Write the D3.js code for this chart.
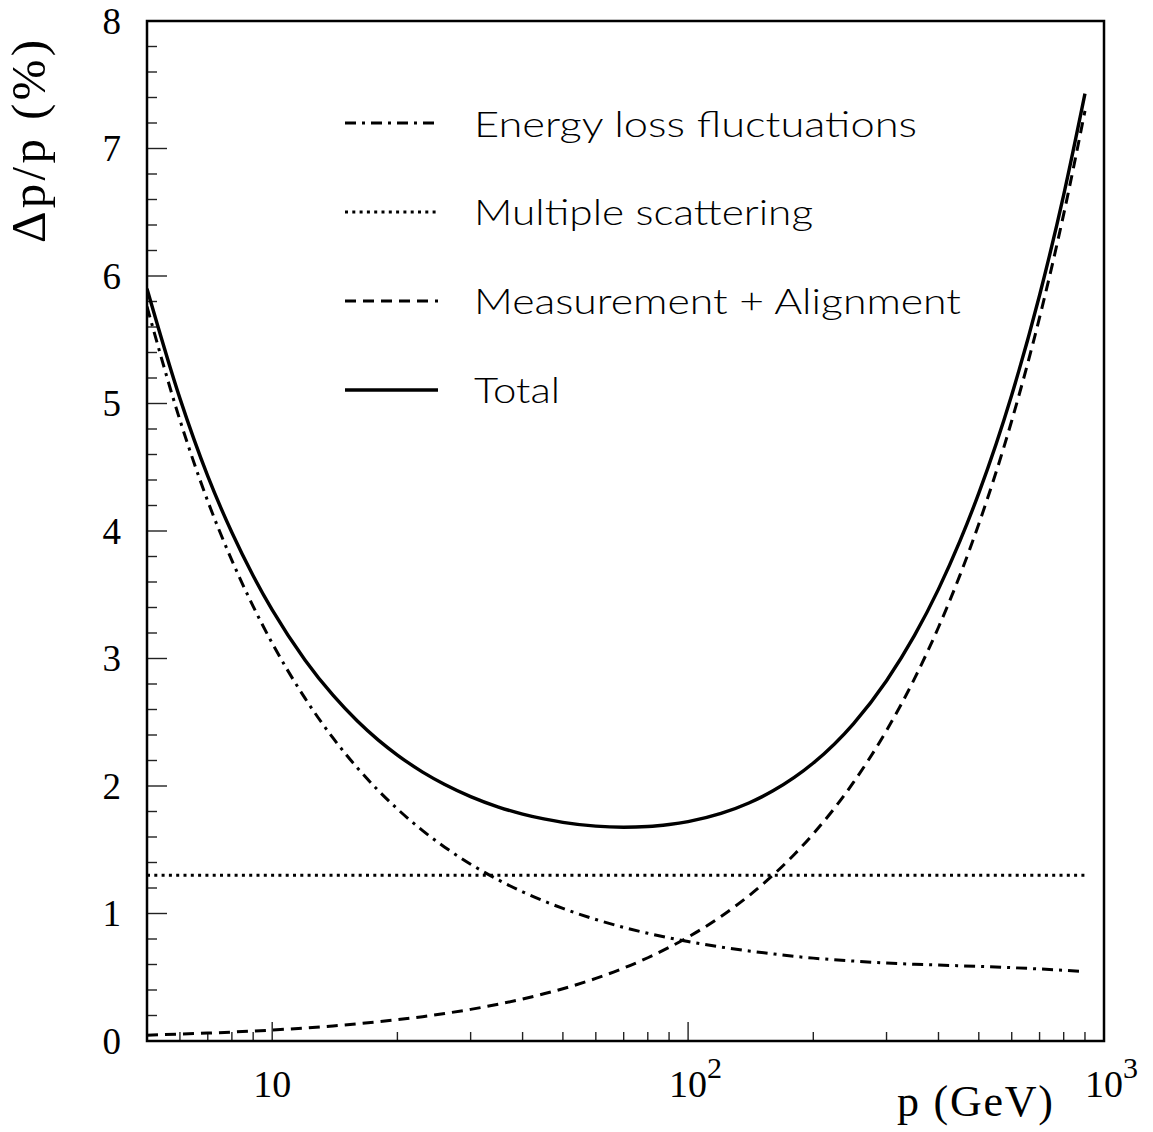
<!DOCTYPE html>
<html>
<head>
<meta charset="utf-8">
<script src="https://cdn.jsdelivr.net/npm/d3@7"></script>
<style>
  html, body { margin: 0; padding: 0; background: #fff; }
  svg { display: block; }
</style>
</head>
<body>
<svg id="chart" width="1153" height="1132"></svg>
<script>
// ---- data ----
const pValues = [5, 6, 7, 8, 9, 10, 12, 14, 16, 18, 20, 23, 26, 30, 35, 40, 45, 50, 60, 70, 80, 90, 100, 120, 140, 160, 180, 200, 250, 300, 350, 400, 450, 500, 600, 700, 800, 900];
const energyLoss = [5.76, 4.87, 4.234, 3.77, 3.409, 3.12, 2.687, 2.377, 2.145, 1.964, 1.82, 1.65, 1.52, 1.387, 1.263, 1.17, 1.098, 1.04, 0.953, 0.891, 0.845, 0.809, 0.78, 0.737, 0.706, 0.683, 0.664, 0.65, 0.627, 0.612, 0.602, 0.596, 0.59, 0.585, 0.575, 0.565, 0.555, 0.545];
const multipleScattering = [1.30, 1.30, 1.30, 1.30, 1.30, 1.30, 1.30, 1.30, 1.30, 1.30, 1.30, 1.30, 1.30, 1.30, 1.30, 1.30, 1.30, 1.30, 1.30, 1.30, 1.30, 1.30, 1.30, 1.30, 1.30, 1.30, 1.30, 1.30, 1.30, 1.30, 1.30, 1.30, 1.30, 1.30, 1.30, 1.30, 1.30, 1.30];
const measurement = [0.046, 0.054, 0.062, 0.07, 0.078, 0.086, 0.102, 0.118, 0.135, 0.151, 0.167, 0.191, 0.216, 0.248, 0.289, 0.329, 0.37, 0.41, 0.491, 0.572, 0.653, 0.734, 0.815, 0.977, 1.139, 1.301, 1.463, 1.625, 2.03, 2.435, 2.84, 3.245, 3.65, 4.055, 4.865, 5.675, 6.485, 7.295];
const total = [5.90, 5.04, 4.43, 3.988, 3.649, 3.381, 2.987, 2.712, 2.512, 2.36, 2.243, 2.109, 2.012, 1.917, 1.835, 1.78, 1.742, 1.715, 1.685, 1.677, 1.682, 1.698, 1.721, 1.785, 1.867, 1.962, 2.067, 2.18, 2.49, 2.826, 3.179, 3.544, 3.918, 4.297, 5.067, 5.849, 6.637, 7.43];

const yTickLabels = ["0", "1", "2", "3", "4", "5", "6", "7", "8"];
const xMajorTicks = [10, 100, 1000];
const xTickBase = ["10", "10", "10"];
const xTickExp = ["", "2", "3"];
const legendLabels = ["Energy loss fluctuations", "Multiple scattering", "Measurement + Alignment", "Total"];
const xTitle = "p (GeV)";
const yTitle = "\u0394p/p (%)";

// ---- layout ----
const L = 147, R = 1104, T = 21, B = 1041;
const svg = d3.select("#chart");

const x = d3.scaleLog().domain([5, 1000]).range([L, R]);
const y = d3.scaleLinear().domain([0, 8]).range([B, T]);

const serif = "'Liberation Serif', 'Times New Roman', serif";
const thin = "Lato, 'DejaVu Sans', sans-serif";

const series = [
  { name: legendLabels[0], values: energyLoss, dash: "11,6,3,6", width: 3 },
  { name: legendLabels[1], values: multipleScattering, dash: "3,4.3", width: 3 },
  { name: legendLabels[2], values: measurement, dash: "11,7", width: 3 },
  { name: legendLabels[3], values: total, dash: null, width: 3.4 }
];

// ---- ticks ----
const yMinor = d3.range(0, 41).map(i => i * 0.2);
svg.append("g").selectAll("line").data(yMinor).join("line")
  .attr("x1", L).attr("x2", (d, i) => L + (i % 5 === 0 ? 20 : 10))
  .attr("y1", d => y(d)).attr("y2", d => y(d))
  .attr("stroke", "#222").attr("stroke-width", 1.4);

const xAll = [];
[1, 10, 100].forEach(dec => { for (let k = 1; k <= 9; k++) { const v = dec * k; if (v >= 6 && v <= 900) xAll.push(v); } });
svg.append("g").selectAll("line").data(xAll).join("line")
  .attr("x1", d => x(d)).attr("x2", d => x(d))
  .attr("y1", B).attr("y2", d => B - (Math.abs(Math.log10(d) - Math.round(Math.log10(d))) < 1e-9 ? 19 : 9))
  .attr("stroke", "#222").attr("stroke-width", 1.4);

// ---- frame ----
svg.append("rect").attr("x", L).attr("y", T).attr("width", R - L).attr("height", B - T)
  .attr("fill", "none").attr("stroke", "#000").attr("stroke-width", 2.5);

// ---- y tick labels ----
svg.append("g").selectAll("text").data(yTickLabels).join("text")
  .attr("x", 121).attr("y", (d, i) => y(i)).attr("dy", "0.34em")
  .attr("text-anchor", "end").attr("font-family", serif).attr("font-size", 37)
  .text(d => d);

// ---- x tick labels ----
const xl = svg.append("g");
xMajorTicks.forEach((v, i) => {
  const cx = x(v);
  xl.append("text").attr("x", cx).attr("y", 1097).attr("text-anchor", "middle")
    .attr("font-family", serif).attr("font-size", 38).text(xTickBase[i]);
  if (xTickExp[i]) {
    xl.append("text").attr("x", cx + 19).attr("y", 1078).attr("text-anchor", "start")
      .attr("font-family", serif).attr("font-size", 30).text(xTickExp[i]);
  }
});

// ---- axis titles ----
svg.append("text").attr("x", 1053).attr("y", 1116).attr("text-anchor", "end")
  .attr("font-family", serif).attr("font-size", 44)
  .attr("textLength", 156).attr("lengthAdjust", "spacing")
  .text(xTitle);

svg.append("text").attr("transform", "translate(45,243) rotate(-90)")
  .attr("text-anchor", "start").attr("font-family", serif).attr("font-size", 49)
  .attr("textLength", 203).attr("lengthAdjust", "spacing")
  .text(yTitle);

// ---- curves ----
const line = d3.line().x(d => x(d[0])).y(d => y(d[1])).curve(d3.curveMonotoneX);
svg.append("clipPath").attr("id", "plotclip").append("rect")
  .attr("x", L).attr("y", T).attr("width", R - L).attr("height", B - T);
const cg = svg.append("g").attr("clip-path", "url(#plotclip)");
series.forEach(s => {
  cg.append("path").datum(pValues.map((p, i) => [p, s.values[i]]))
    .attr("d", line).attr("fill", "none").attr("stroke", "#000")
    .attr("stroke-width", s.width)
    .attr("stroke-dasharray", s.dash);
});

// ---- legend ----
const legY = [123, 212, 301, 390];
const legBase = [137, 225, 314, 403];
const legWidths = [443, 339, 487, 86];
const lg = svg.append("g");
series.forEach((s, i) => {
  lg.append("line").attr("x1", 345).attr("x2", 438).attr("y1", legY[i]).attr("y2", legY[i])
    .attr("stroke", "#000").attr("stroke-width", s.width).attr("stroke-dasharray", s.dash);
});
const lt = svg.append("g");
series.forEach((s, i) => {
  lt.append("text").attr("x", 474).attr("y", legBase[i])
    .attr("font-family", thin).attr("font-weight", 300).attr("font-size", 36)
    .attr("fill", "#000")
    .attr("textLength", legWidths[i]).attr("lengthAdjust", "spacingAndGlyphs")
    .text(s.name);
});
</script>
</body>
</html>
